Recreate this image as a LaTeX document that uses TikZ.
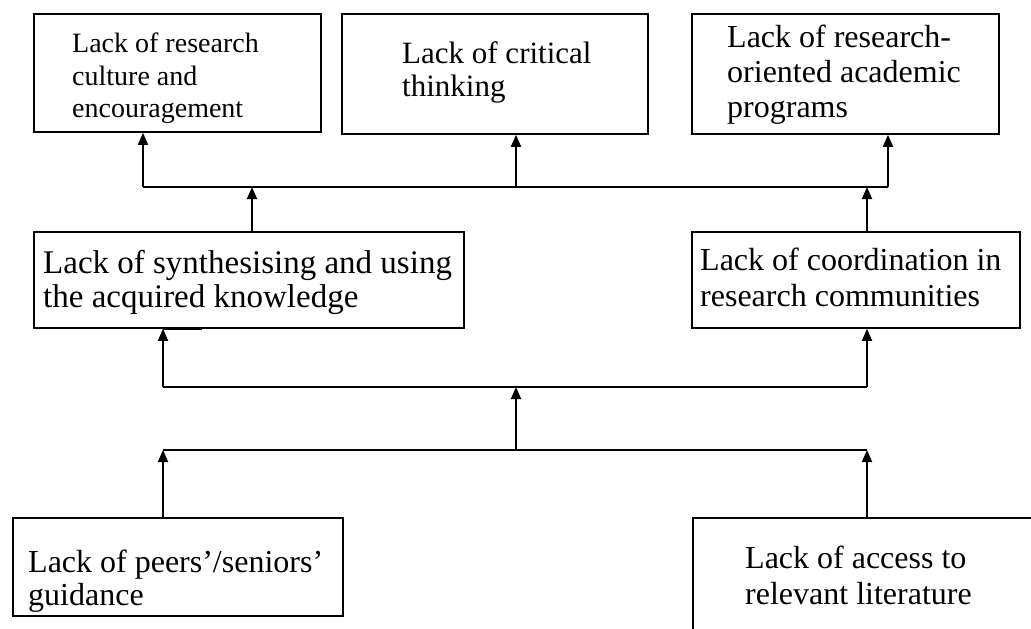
\documentclass[tikz,border=0pt]{standalone}
\usepackage{fontspec}
\setmainfont{Liberation Serif}
\usetikzlibrary{arrows.meta}
\begin{document}
\begin{tikzpicture}[x=1pt,y=-1pt,
  box/.style={draw, line width=1.8pt, inner sep=0pt, anchor=north west},
  txt/.style={inner sep=0pt, anchor=north west, align=left},
  conn/.style={line width=1.8pt},
  arr/.style={conn, -{Triangle[length=12pt,width=10pt]}}]
\useasboundingbox (0,0) rectangle (1031,629);
\fill[white] (0,0) rectangle (1031,629);
% boxes
\node[box, minimum width=287pt, minimum height=118pt] (b1) at (33,13) {};
\node[box, minimum width=306pt, minimum height=120pt] (b2) at (341,13) {};
\node[box, minimum width=307pt, minimum height=120pt] (b3) at (691,13) {};
\node[box, minimum width=430pt, minimum height=96pt] (b4) at (33,231) {};
\node[box, minimum width=328pt, minimum height=96pt] (b5) at (691,231) {};
\node[box, minimum width=330pt, minimum height=98pt] (b6) at (12,517) {};
\node[box, minimum width=360pt, minimum height=140pt] (b7) at (692,517) {};
% texts
\node[txt, font=\fontsize{28}{32.5}\selectfont] (t1) at (72,33) {Lack of research\\culture and\\encouragement};
\node[txt, font=\fontsize{31}{33}\selectfont] (t2) at (402,41) {Lack of critical\\thinking};
\node[txt, font=\fontsize{32}{35}\selectfont] (t3) at (727,25) {Lack of research-\\oriented academic\\programs};
\node[txt, font=\fontsize{33}{34}\selectfont] (t4) at (43,250) {Lack of synthesising and using\\the acquired knowledge};
\node[txt, font=\fontsize{32}{36}\selectfont] (t5) at (700,248) {Lack of coordination in\\research communities};
\node[txt, font=\fontsize{32}{33}\selectfont] (t6) at (28,550) {Lack of peers'/seniors'\\guidance};
\node[txt, font=\fontsize{32}{36}\selectfont] (t7) at (745,546) {Lack of access to\\relevant literature};
% junction coordinates
\coordinate (u1) at (143,187);
\coordinate (u2) at (516,187);
\coordinate (u3) at (888,187);
\coordinate (s4) at (252,187);
\coordinate (s5) at (867,187);
\coordinate (m1) at (163,387);
\coordinate (m2) at (516,387);
\coordinate (m3) at (867,387);
\coordinate (l1) at (163,450);
\coordinate (l2) at (516,450);
\coordinate (l3) at (867,450);
% top bus
\draw[conn] (u1) -- (u3);
\draw[arr] (u1) -- (u1 |- b1.south);
\draw[arr] (u2) -- (u2 |- b2.south);
\draw[arr] (u3) -- (u3 |- b3.south);
\draw[arr] (s4 |- b4.north) -- (s4);
\draw[arr] (s5 |- b5.north) -- (s5);
% middle bus
\draw[conn] (m1) -- (m3);
\draw[arr] (m1) -- (m1 |- b4.south);
\draw[arr] (m3) -- (m3 |- b5.south);
% lower bus
\draw[conn] (l1) -- (l3);
\draw[arr] (l2) -- (m2);
\draw[arr] (l1 |- b6.north) -- (l1);
\draw[arr] (l3 |- b7.north) -- (l3);
% small mark under box
\draw[line width=2.5pt] (163,329) -- (202,329);
\end{tikzpicture}
\end{document}
